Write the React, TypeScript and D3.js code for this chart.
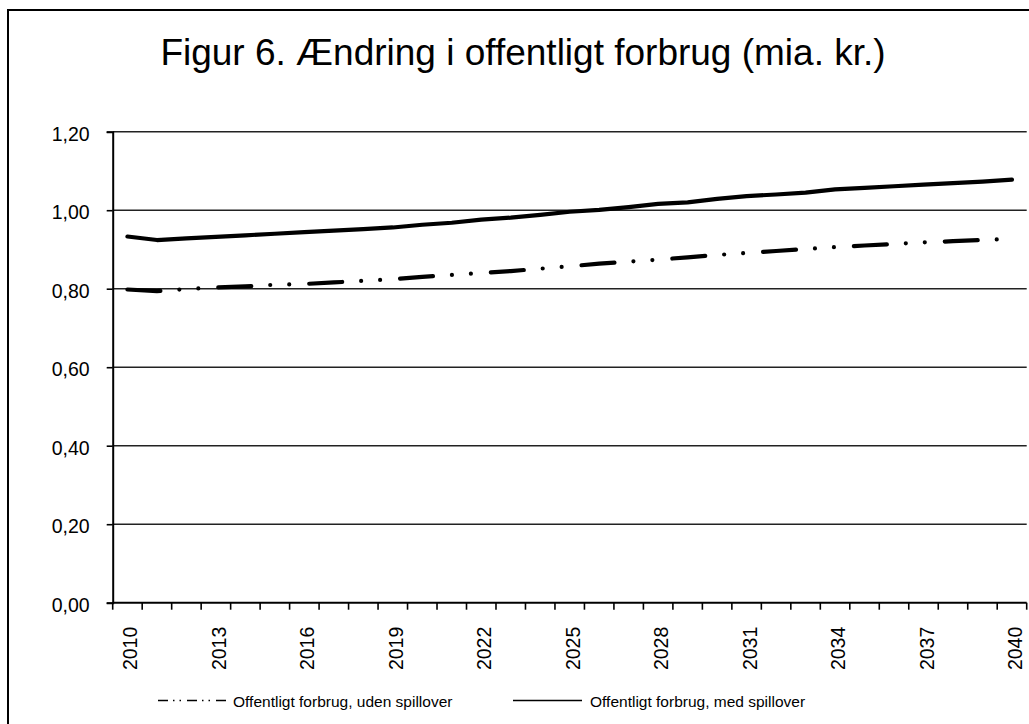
import React, { useEffect, useRef } from 'react';
import * as d3 from 'd3';

// data
const years = d3.range(2010, 2041).map(String);

const medSpillover = [
    0.933, 0.924, 0.928, 0.932, 0.936, 0.940, 0.944, 0.948, 0.952, 0.956,
    0.963, 0.968, 0.976, 0.981, 0.988, 0.996, 1.001, 1.008, 1.016, 1.020,
    1.029, 1.036, 1.040, 1.045, 1.053, 1.057, 1.061, 1.065, 1.069, 1.073,
    1.078
];

const udenSpillover = [
    0.798, 0.794, 0.799, 0.803, 0.806, 0.810, 0.812, 0.816, 0.820, 0.824,
    0.830, 0.835, 0.840, 0.845, 0.851, 0.857, 0.864, 0.869, 0.874, 0.880,
    0.886, 0.891, 0.896, 0.901, 0.906, 0.910, 0.914, 0.918, 0.921, 0.924,
    0.927
];

const yTicks = [0, 0.2, 0.4, 0.6, 0.8, 1.0, 1.2];
const labelYears = ['2010', '2013', '2016', '2019', '2022', '2025', '2028', '2031', '2034', '2037', '2040'];

const title = 'Figur 6. Ændring i offentligt forbrug (mia. kr.)';
const legendLabels = ['Offentligt forbrug, uden spillover', 'Offentligt forbrug, med spillover'];

export default function App() {

    const svgRef = useRef<SVGSVGElement>(null);

    const width = 1029;
    const height = 724;
    const font = '"Liberation Sans", Arial, sans-serif';

    const margin = { top: 131.7, right: 2.3, bottom: 121.3, left: 112.7 };

    useEffect(() => {
        const svg = d3.select(svgRef.current);
        svg.selectAll('*').remove();

        // outer frame (runs off the right and bottom edge like in the source)
        svg.append('rect')
            .attr('x', 8).attr('y', 10)
            .attr('width', 1060).attr('height', 760)
            .attr('fill', 'white')
            .attr('stroke', '#000')
            .attr('stroke-width', 2);

        svg.append('text')
            .attr('x', 523)
            .attr('y', 65)
            .attr('text-anchor', 'middle')
            .style('font-family', font)
            .style('font-size', '37px')
            .text(title);

        const x = d3.scaleBand()
            .domain(years)
            .range([margin.left, width - margin.right]);

        const y = d3.scaleLinear()
            .domain([0, 1.2])
            .range([height - margin.bottom, margin.top]);

        const fmt = (v: number) => d3.format('.2f')(v).replace('.', ',');

        // gridlines
        svg.append('g')
            .selectAll('line')
            .data(yTicks.filter(d => d > 0))
            .enter()
            .append('line')
            .attr('x1', margin.left)
            .attr('x2', width - margin.right)
            .attr('y1', d => y(d))
            .attr('y2', d => y(d))
            .attr('stroke', '#222')
            .attr('stroke-width', 1.6);

        // y axis
        const yAxis = d3.axisLeft(y)
            .tickValues(yTicks)
            .tickSize(6)
            .tickPadding(17)
            .tickFormat(d => fmt(d as number));

        const yG = svg.append('g')
            .attr('transform', `translate(${margin.left},0)`)
            .call(yAxis);
        yG.select('.domain').attr('stroke', '#000').attr('stroke-width', 2);
        yG.selectAll('.tick line').attr('stroke', '#000').attr('stroke-width', 1.6);
        yG.selectAll('.tick text')
            .attr('dy', '0.45em')
            .attr('fill', '#000')
            .style('font-family', font)
            .style('font-size', '19.5px');

        // x axis: ticks on band edges
        const edges = years.map(d => x(d) as number).concat([width - margin.right]);
        svg.append('line')
            .attr('x1', margin.left).attr('x2', width - margin.right)
            .attr('y1', y(0)).attr('y2', y(0))
            .attr('stroke', '#000').attr('stroke-width', 2);

        svg.append('g')
            .selectAll('line')
            .data(edges)
            .enter()
            .append('line')
            .attr('x1', d => d).attr('x2', d => d)
            .attr('y1', y(0)).attr('y2', y(0) + 7)
            .attr('stroke', '#000').attr('stroke-width', 1.6);

        svg.append('g')
            .selectAll('text')
            .data(labelYears)
            .enter()
            .append('text')
            .attr('transform', d => `translate(${(x(d) as number) + x.bandwidth() / 2 + 3},${y(0) + 24}) rotate(-90)`)
            .attr('text-anchor', 'end')
            .attr('dy', '0.36em')
            .style('font-family', font)
            .style('font-size', '19.5px')
            .text(d => d);

        const line = d3.line<number>()
            .x((d, i) => (x(years[i]) as number) + x.bandwidth() / 2)
            .y(d => y(d));

        svg.append('path')
            .datum(udenSpillover)
            .attr('d', line)
            .attr('fill', 'none')
            .attr('stroke', '#000')
            .attr('stroke-width', 4.2)
            .attr('stroke-linecap', 'round')
            .attr('stroke-dasharray', '33,19,0,19,0,20');

        svg.append('path')
            .datum(medSpillover)
            .attr('d', line)
            .attr('fill', 'none')
            .attr('stroke', '#000')
            .attr('stroke-width', 4.2)
            .attr('stroke-linecap', 'round')
            .attr('stroke-linejoin', 'round');

        // legend
        const legend = [
            { label: legendLabels[0], x1: 158, x2: 227, tx: 233, dash: '10,5,1.5,5,1.5,6' },
            { label: legendLabels[1], x1: 513, x2: 582, tx: 590, dash: null }
        ];

        const lg = svg.append('g');
        legend.forEach(l => {
            lg.append('line')
                .attr('x1', l.x1).attr('x2', l.x2)
                .attr('y1', 700.5).attr('y2', 700.5)
                .attr('stroke', '#000')
                .attr('stroke-width', 1.6)
                .attr('stroke-dasharray', l.dash);
            lg.append('text')
                .attr('x', l.tx)
                .attr('y', 706.5)
                .style('font-family', font)
                .style('font-size', '15.5px')
                .text(l.label);
        });

    }, []);

    return (
        <svg ref={svgRef} width={width} height={height}
            style={{ position: 'absolute', left: 0, top: 0, display: 'block', background: 'white' }}>
        </svg>
    );
}
